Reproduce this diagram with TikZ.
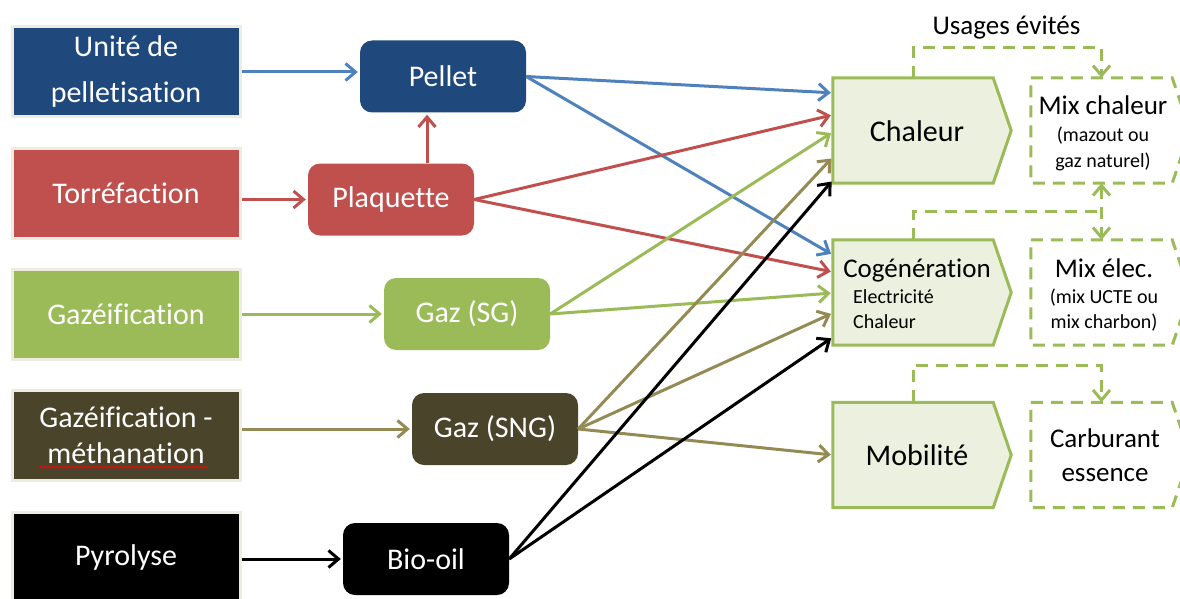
\documentclass[tikz,border=0pt]{standalone}
\usepackage{fontspec}
\setmainfont{Carlito}[Ligatures={NoCommon,NoContextual}]
\usetikzlibrary{arrows.meta,calc,backgrounds,decorations.pathmorphing}

\definecolor{navy}{HTML}{1F497D}
\definecolor{brick}{HTML}{C0504D}
\definecolor{leaf}{HTML}{9BBB59}
\definecolor{umber}{HTML}{4A442A}
\definecolor{skyline}{HTML}{4F81BD}
\definecolor{khaki}{HTML}{948A54}
\definecolor{mint}{HTML}{EBF1DE}
\definecolor{paper}{HTML}{EEECE1}

% outline of an arrow-shaped box built on a rectangular body node
\newcommand\arrowbody[2]{\path[#2] (#1.north west) -- (#1.north east) -- ($(#1.east)+(18,0)$) -- (#1.south east) -- (#1.south west) -- cycle;}

\begin{document}
\begin{tikzpicture}[x=1pt,y=-1pt,
  big/.style={font=\fontsize{30}{36}\selectfont},
  mid/.style={font=\fontsize{27}{32}\selectfont},
  small/.style={font=\fontsize{20}{24}\selectfont},
  srcbox/.style={big, rectangle, draw=paper, line width=3pt, text=white,
    minimum width=228, minimum height=90, align=center, inner sep=0pt},
  prodbox/.style={big, rectangle, rounded corners=12pt, text=white,
    minimum width=166, minimum height=72, inner sep=0pt},
  usebody/.style={rectangle, minimum width=160, minimum height=105, inner sep=0pt},
  mixbody/.style={rectangle, minimum width=141, minimum height=105, inner sep=0pt},
  usefill/.style={fill=mint, draw=leaf, line width=3pt, line join=miter},
  mixline/.style={draw=leaf, line width=3pt, dash pattern=on 12pt off 8pt},
  conn/.style={line width=3pt, -{Straight Barb[length=10pt,width=17pt]}, shorten >=2pt},
  dconn/.style={leaf, line width=3pt, dash pattern=on 12pt off 8pt,
    -{Straight Barb[length=10pt,width=17pt]}},
  txt/.style={anchor=base, inner sep=0pt}]

\useasboundingbox (0,0) rectangle (1180,599);

% source processes
\node[srcbox, fill=navy]  (unite)  at (126,72)  {Unité de\\[10pt]pelletisation};
\node[srcbox, fill=brick] (torr)   at (126,193) {Torréfaction};
\node[srcbox, fill=leaf]  (gazef)  at (126,314) {Gazéification};
\node[srcbox, fill=umber] (meth)   at (126,435) {Gazéification -\\méthanation};
\node[srcbox, fill=black] (pyro)   at (126,557) {Pyrolyse};

% wavy spelling mark under the second line
\draw[red, line width=1pt, decorate, decoration={snake, segment length=4pt, amplitude=1pt}]
  ($(meth.center)+(-87,32)$) -- ($(meth.center)+(82,32)$);

% intermediate products
\node[prodbox, fill=navy]  (pellet) at (443,76.5)  {Pellet};
\node[prodbox, fill=brick] (plaq)   at (391,199.5) {Plaquette};
\node[prodbox, fill=leaf]  (sg)     at (467,314)   {Gaz (SG)};
\node[prodbox, fill=umber] (sng)    at (495,429)   {Gaz (SNG)};
\node[prodbox, fill=black] (bio)    at (426,559)   {Bio-oil};

% end uses
\node[usebody] (chal) at (913,130.5) {};
\node[usebody] (cog)  at (913,292.5) {};
\node[usebody] (mob)  at (913,455)   {};
\node[mixbody] (mixch) at (1101.5,130.5) {};
\node[mixbody] (mixel) at (1101.5,292.5) {};
\node[mixbody] (carb)  at (1101.5,455)   {};

\begin{scope}[on background layer]
  \arrowbody{chal}{usefill}
  \arrowbody{cog}{usefill}
  \arrowbody{mob}{usefill}
  \arrowbody{mixch}{mixline}
  \arrowbody{mixel}{mixline}
  \arrowbody{carb}{mixline}
\end{scope}

\node[txt, big] (chalt) at (917,142) {Chaleur};
\node[txt, mid] (cogt)  at (917,277) {Cogénération};
\node[txt, small, anchor=base west] (cogel) at (853,303) {Electricité};
\node[txt, small, anchor=base west] (cogch) at (853,328) {Chaleur};
\node[txt, big] (mobt)  at (917,465) {Mobilité};

\node[txt, mid]   (mixcht) at (1103,115) {Mix chaleur};
\node[txt, small] (mixch2) at (1103,142) {(mazout ou};
\node[txt, small] (mixch3) at (1103,167) {gaz naturel)};
\node[txt, mid]   (mixelt) at (1104,277) {Mix élec.};
\node[txt, small] (mixel2) at (1104,303) {(mix UCTE ou};
\node[txt, small] (mixel3) at (1104,328) {mix charbon)};
\node[txt, mid]   (carbt)  at (1105,447) {Carburant};
\node[txt, mid]   (carb2)  at (1105,481) {essence};

\node[txt, mid] (usages) at (1006.5,35) {Usages évités};

% avoided-use links
\draw[dconn] (chal.north) -- ++(0,-30) -| (mixch.north);
\draw[leaf, line width=3pt, dash pattern=on 12pt off 8pt]
  (cog.north) |- ($(mixch.south)!0.5!(mixel.north)$);
\draw[dconn, {Straight Barb[length=10pt,width=17pt]}-{Straight Barb[length=10pt,width=17pt]}]
  (mixch.south) -- (mixel.north);
\draw[dconn] (mob.north) -- ++(0,-37) -| (carb.north);

% process to product
\draw[conn, skyline] (unite.east) -- (unite.east -| pellet.west);
\draw[conn, brick] (torr.east |- plaq.west) -- (plaq.west);
\draw[conn, brick] ([xshift=36pt]plaq.north) -- ([xshift=36pt]plaq.north |- pellet.south);
\draw[conn, leaf] (gazef.east) -- (gazef.east -| sg.west);
\draw[conn, khaki] (meth.east |- sng.west) -- (sng.west);
\draw[conn, black] (pyro.east |- bio.west) -- (bio.west);

% product to end use
\draw[conn, skyline] (pellet.east) -- ($(chal.north west)!0.143!(chal.south west)$);
\draw[conn, skyline] (pellet.east) -- ($(cog.north west)!0.143!(cog.south west)$);
\draw[conn, brick] (plaq.east) -- ($(chal.north west)!0.352!(chal.south west)$);
\draw[conn, brick] (plaq.east) -- ($(cog.north west)!0.305!(cog.south west)$);
\draw[conn, leaf] (sg.east) -- ($(chal.north west)!0.514!(chal.south west)$);
\draw[conn, leaf] (sg.east) -- ($(cog.north west)!0.505!(cog.south west)$);
\draw[conn, khaki] (sng.east) -- ($(chal.north west)!0.752!(chal.south west)$);
\draw[conn, khaki] (sng.east) -- ($(cog.north west)!0.695!(cog.south west)$);
\draw[conn, khaki] (sng.east) -- (mob.west);
\draw[conn, black] (bio.east) -- ($(chal.north west)!0.97!(chal.south west)$);
\draw[conn, black] (bio.east) -- ($(cog.north west)!0.924!(cog.south west)$);

\end{tikzpicture}
\end{document}
